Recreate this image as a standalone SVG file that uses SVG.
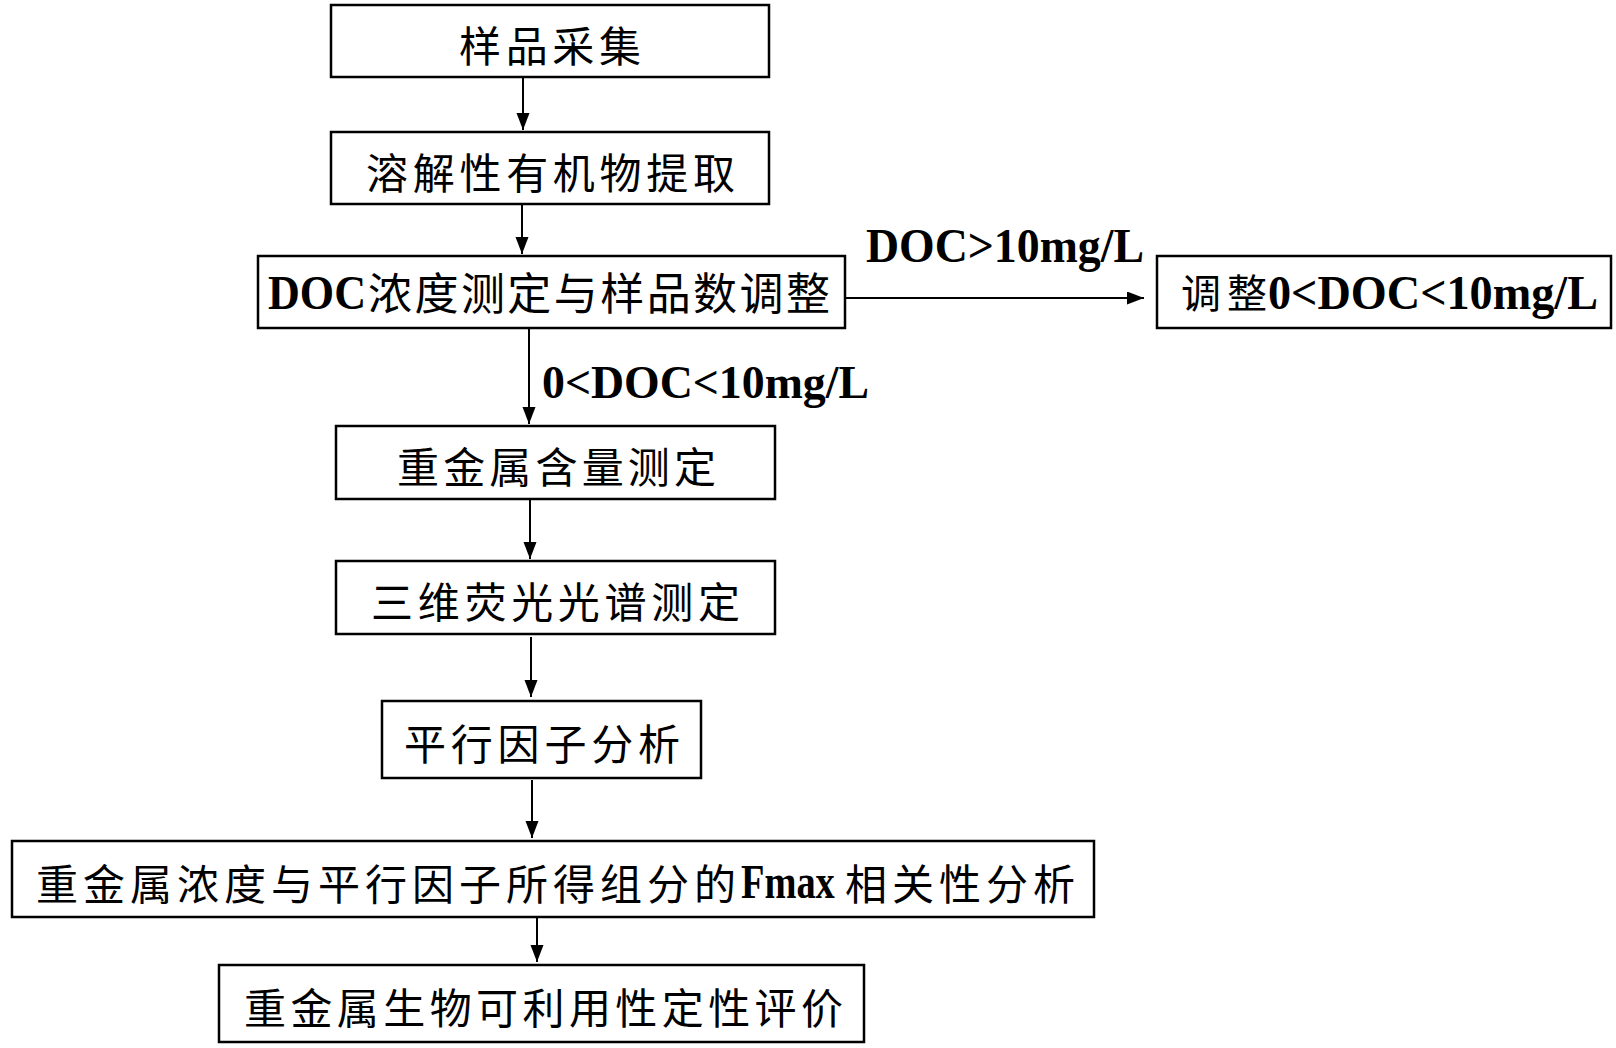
<svg xmlns="http://www.w3.org/2000/svg" width="1616" height="1048" viewBox="0 0 1616 1048">
<style>
.box{fill:#fff;stroke:#000;stroke-width:2.5}
.cj{font-family:"Noto Sans CJK SC","Noto Sans CJK JP",sans-serif;font-size:42px;fill:#000}
.la{font-family:"Liberation Serif","Times New Roman",serif;font-weight:bold;font-size:48px;fill:#000}
.ln{stroke:#000;stroke-width:2;fill:none;marker-end:url(#ah)}
</style>
<defs>
<marker id="ah" markerUnits="userSpaceOnUse" markerWidth="18" markerHeight="14" refX="17" refY="6.5" orient="auto">
<path d="M0,0 L17,6.5 L0,13 z" fill="#000"/>
</marker>
</defs>
<rect width="1616" height="1048" fill="#fff"/>
<g id="connectors">
<line class="ln" x1="523" y1="77" x2="523" y2="130"/>
<line class="ln" x1="522" y1="204" x2="522" y2="254"/>
<line class="ln" x1="529" y1="328" x2="529" y2="424"/>
<line class="ln" x1="530" y1="499" x2="530" y2="559"/>
<line class="ln" x1="531" y1="637" x2="531" y2="697"/>
<line class="ln" x1="532" y1="780" x2="532" y2="838"/>
<line class="ln" x1="537" y1="917" x2="537" y2="962"/>
<line class="ln" x1="845" y1="298" x2="1144" y2="298"/>
<text class="la" x="866" y="262" textLength="278" lengthAdjust="spacingAndGlyphs">DOC&gt;10mg/L</text>
<text class="la" x="542" y="398" style="font-size:46px" textLength="327" lengthAdjust="spacingAndGlyphs">0&lt;DOC&lt;10mg/L</text>
</g>
<g id="n1">
<rect class="box" x="331" y="5" width="438" height="72"/>
<text class="cj" x="459" y="62" textLength="182" lengthAdjust="spacing">样品采集</text>
</g>
<g id="n2">
<rect class="box" x="331" y="132" width="438" height="72"/>
<text class="cj" x="366" y="189" textLength="369" lengthAdjust="spacing">溶解性有机物提取</text>
</g>
<g id="n3">
<rect class="box" x="258" y="256" width="587" height="72"/>
<text class="la" x="268" y="309" textLength="98" lengthAdjust="spacingAndGlyphs">DOC</text>
<text class="cj" x="368" y="310" style="font-size:44px" textLength="462" lengthAdjust="spacing">浓度测定与样品数调整</text>
</g>
<g id="n4">
<rect class="box" x="1157" y="256" width="454" height="72"/>
<text class="cj" x="1181" y="308" style="font-size:40px" textLength="86" lengthAdjust="spacing">调整</text>
<text class="la" x="1268" y="309" textLength="330" lengthAdjust="spacingAndGlyphs">0&lt;DOC&lt;10mg/L</text>
</g>
<g id="n5">
<rect class="box" x="336" y="426" width="439" height="73"/>
<text class="cj" x="397" y="483" textLength="319" lengthAdjust="spacing">重金属含量测定</text>
</g>
<g id="n6">
<rect class="box" x="336" y="561" width="439" height="73"/>
<text class="cj" x="371" y="618" textLength="369" lengthAdjust="spacing">三维荧光光谱测定</text>
</g>
<g id="n7">
<rect class="box" x="382" y="701" width="319" height="77"/>
<text class="cj" x="404" y="760" textLength="276" lengthAdjust="spacing">平行因子分析</text>
</g>
<g id="n8">
<rect class="box" x="12" y="841" width="1082" height="76"/>
<text class="cj" x="36" y="900" textLength="700" lengthAdjust="spacing">重金属浓度与平行因子所得组分的</text>
<text class="la" transform="translate(741,898) scale(0.8,1)" x="0" y="0">Fmax</text>
<text class="cj" x="845" y="900" textLength="230" lengthAdjust="spacing">相关性分析</text>
</g>
<g id="n9">
<rect class="box" x="219" y="965" width="645" height="77"/>
<text class="cj" x="244" y="1024" textLength="599" lengthAdjust="spacing">重金属生物可利用性定性评价</text>
</g>
</svg>
